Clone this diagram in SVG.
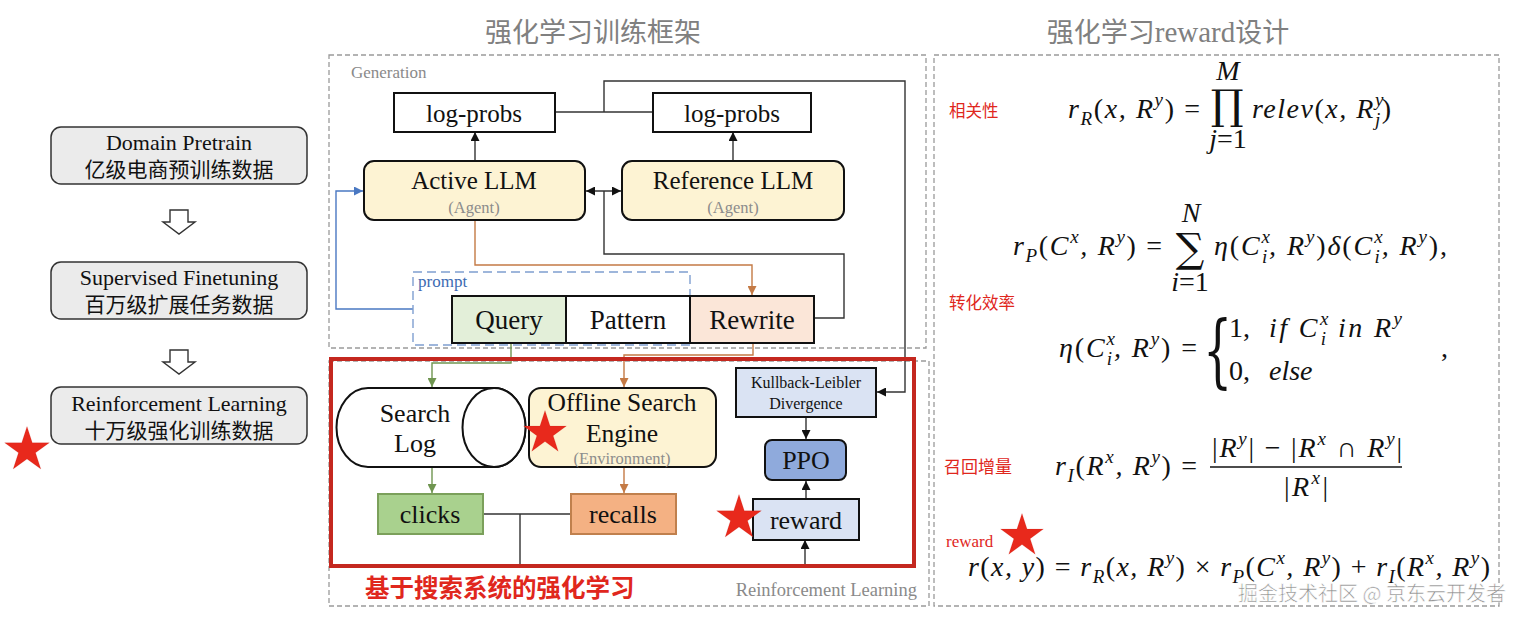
<svg xmlns="http://www.w3.org/2000/svg" width="1524" height="623" viewBox="0 0 1524 623">
<style>
.ser{font-family:"Liberation Serif","Times New Roman",serif;}
.cjk{font-family:"Noto Sans CJK SC","Noto Sans",sans-serif;}
.lbox{fill:#ebebeb;stroke:#333;stroke-width:1.5;}
.box{stroke:#111;stroke-width:2;}
.t25{font-size:25px;fill:#111;}
.gray{fill:#8a8a8a;}
.dash{fill:none;stroke:#9a9a9a;stroke-width:1.3;stroke-dasharray:5 3;}
.ln{fill:none;stroke:#333;stroke-width:1.4;}
.or{fill:none;stroke:#c47a45;stroke-width:1.4;}
.gr{fill:none;stroke:#6f9550;stroke-width:1.4;}
.bl{fill:none;stroke:#4a78c2;stroke-width:1.4;}
.m{font-family:"Liberation Serif","Times New Roman",serif;font-style:italic;font-size:28px;fill:#111;}
.u{font-style:normal;}
.s{font-size:19px;}
.red{fill:#e0271d;}
.star{fill:#e8291c;stroke:#b01810;stroke-width:0.6;}
</style>
<defs>
<marker id="ak" viewBox="0 0 10 10" refX="10" refY="5" markerWidth="9" markerHeight="9" orient="auto-start-reverse" markerUnits="userSpaceOnUse"><path d="M0,0 L10,5 L0,10 z" fill="#111"/></marker>
<marker id="ao" viewBox="0 0 10 10" refX="10" refY="5" markerWidth="9" markerHeight="9" orient="auto" markerUnits="userSpaceOnUse"><path d="M0,0 L10,5 L0,10 z" fill="#c47a45"/></marker>
<marker id="ag" viewBox="0 0 10 10" refX="10" refY="5" markerWidth="9" markerHeight="9" orient="auto" markerUnits="userSpaceOnUse"><path d="M0,0 L10,5 L0,10 z" fill="#6f9550"/></marker>
<marker id="ab" viewBox="0 0 10 10" refX="10" refY="5" markerWidth="9" markerHeight="9" orient="auto" markerUnits="userSpaceOnUse"><path d="M0,0 L10,5 L0,10 z" fill="#4a78c2"/></marker>
<path id="star" d="M0,-100 L22.45,-30.9 L95.11,-30.9 L36.33,11.8 L58.78,80.9 L0,38.2 L-58.78,80.9 L-36.33,11.8 L-95.11,-30.9 L-22.45,-30.9 Z"/>
</defs>
<rect width="1524" height="623" fill="#ffffff"/>

<!-- titles -->
<text x="593" y="42" text-anchor="middle" class="cjk" font-size="27" fill="#808080">强化学习训练框架</text>
<text x="1168" y="42" text-anchor="middle" class="cjk" font-size="27" fill="#808080">强化学习<tspan class="ser" font-size="29">reward</tspan>设计</text>

<!-- left column -->
<g id="domain-pretrain">
<rect x="51" y="127" width="256" height="57" rx="10" class="lbox"/>
<text x="179" y="150" text-anchor="middle" class="ser" font-size="22" fill="#111">Domain Pretrain</text>
<text x="179" y="177" text-anchor="middle" class="cjk" font-size="21" fill="#111">亿级电商预训练数据</text>
</g>
<g id="sft">
<rect x="51" y="262" width="256" height="57" rx="10" class="lbox"/>
<text x="179" y="285" text-anchor="middle" class="ser" font-size="22" fill="#111">Supervised Finetuning</text>
<text x="179" y="312" text-anchor="middle" class="cjk" font-size="21" fill="#111">百万级扩展任务数据</text>
</g>
<g id="rl-stage">
<rect x="51" y="387" width="256" height="57" rx="10" class="lbox"/>
<text x="179" y="411" text-anchor="middle" class="ser" font-size="22" fill="#111">Reinforcement Learning</text>
<text x="179" y="438" text-anchor="middle" class="cjk" font-size="21" fill="#111">十万级强化训练数据</text>
</g>
<g id="stage-arrows" fill="#fff" stroke="#333" stroke-width="1.4">
<polygon points="170,210 188,210 188,222 195,222 179,234 163,222 170,222"/>
<polygon points="170,350 188,350 188,362 195,362 179,374 163,362 170,362"/>
</g>
<use href="#star" class="star" transform="translate(27,450) scale(0.235)"/>

<!-- frames -->
<g id="generation-frame">
<rect x="329" y="55" width="597" height="293" class="dash"/>
<text x="351" y="78" class="ser gray" font-size="17">Generation</text>
</g>
<g id="rl-frame">
<rect x="329" y="361" width="600" height="245" class="dash"/>
<text x="917" y="596" text-anchor="end" class="ser gray" font-size="18.5">Reinforcement Learning</text>
</g>
<g id="reward-frame">
<rect x="934" y="55" width="565" height="551" class="dash"/>
</g>

<!-- connectors -->
<g id="connectors">
<polyline class="ln" points="555,112 653,112"/>
<polyline class="ln" points="604,112 604,81 905,81 905,392 877,392" marker-end="url(#ak)"/>
<line class="ln" x1="475" y1="161" x2="475" y2="132" marker-end="url(#ak)"/>
<line class="ln" x1="733" y1="161" x2="733" y2="132" marker-end="url(#ak)"/>
<line class="ln" x1="586" y1="191" x2="621" y2="191" marker-start="url(#ak)" marker-end="url(#ak)"/>
<polyline class="ln" points="604,191 604,254 844,254 844,318 814,318"/>
<polyline class="or" points="475,220 475,265 752,265 752,295" marker-end="url(#ao)"/>
<polyline class="bl" points="413,309 336,309 336,191 363,191" marker-end="url(#ab)"/>
<polyline class="gr" points="511,343 511,363 432,363 432,387" marker-end="url(#ag)"/>
<polyline class="or" points="753,343 753,355 624,355 624,387" marker-end="url(#ao)"/>
<line class="gr" x1="432" y1="467" x2="432" y2="493" marker-end="url(#ag)"/>
<line class="or" x1="624" y1="467" x2="624" y2="493" marker-end="url(#ao)"/>
<line class="ln" x1="483" y1="514" x2="571" y2="514"/>
<polyline class="ln" points="520,514 520,565 805,565 805,540" marker-end="url(#ak)"/>
<line class="ln" x1="806" y1="417" x2="806" y2="439" marker-end="url(#ak)"/>
<line class="ln" x1="806" y1="499" x2="806" y2="481" marker-end="url(#ak)"/>
</g>

<!-- generation nodes -->
<g id="logprobs-active">
<rect x="394" y="93" width="161" height="39" fill="#fff" class="box"/>
<text x="474" y="122" text-anchor="middle" class="ser t25">log-probs</text>
</g>
<g id="logprobs-ref">
<rect x="653" y="93" width="158" height="39" fill="#fff" class="box"/>
<text x="732" y="122" text-anchor="middle" class="ser t25">log-probs</text>
</g>
<g id="active-llm">
<rect x="364" y="161" width="221" height="59" rx="10" fill="#fdf3d3" class="box"/>
<text x="474" y="189" text-anchor="middle" class="ser t25">Active LLM</text>
<text x="474" y="213" text-anchor="middle" class="ser" font-size="16.5" fill="#8c8c8c">(Agent)</text>
</g>
<g id="reference-llm">
<rect x="622" y="161" width="222" height="59" rx="10" fill="#fdf3d3" class="box"/>
<text x="733" y="189" text-anchor="middle" class="ser t25">Reference LLM</text>
<text x="733" y="213" text-anchor="middle" class="ser" font-size="16.5" fill="#8c8c8c">(Agent)</text>
</g>
<g id="prompt">
<rect x="413" y="272" width="277" height="73" fill="none" stroke="#7f9fd0" stroke-width="1.4" stroke-dasharray="9 5"/>
<text x="418" y="287" class="ser" font-size="17" fill="#3d6bb3">prompt</text>
</g>
<g id="query">
<rect x="452" y="296" width="114" height="47" fill="#e3efd9" class="box"/>
<text x="509" y="329" text-anchor="middle" class="ser" font-size="27" fill="#111">Query</text>
</g>
<g id="pattern">
<rect x="566" y="296" width="124" height="47" fill="#fff" class="box"/>
<text x="628" y="329" text-anchor="middle" class="ser" font-size="27" fill="#111">Pattern</text>
</g>
<g id="rewrite">
<rect x="690" y="296" width="124" height="47" fill="#fbe6d8" class="box"/>
<text x="752" y="329" text-anchor="middle" class="ser" font-size="27" fill="#111">Rewrite</text>
</g>

<!-- RL nodes -->
<g id="search-log">
<path d="M368,388 L494,388 A31.5,39.5 0 0 1 494,467 L368,467 A31.5,39.5 0 0 1 368,388 Z" fill="#fff" class="box"/>
<ellipse cx="494" cy="427.5" rx="31.5" ry="39.5" fill="#fff" class="box"/>
<text x="415" y="422" text-anchor="middle" class="ser" font-size="26" fill="#111">Search</text>
<text x="415" y="452" text-anchor="middle" class="ser" font-size="26" fill="#111">Log</text>
</g>
<g id="offline-search-engine">
<rect x="529" y="388" width="187" height="79" rx="12" fill="#fdf3d3" class="box"/>
<text x="622" y="411" text-anchor="middle" class="ser" font-size="25.5" fill="#111">Offline Search</text>
<text x="622" y="442" text-anchor="middle" class="ser" font-size="25.5" fill="#111">Engine</text>
<text x="622" y="464" text-anchor="middle" class="ser" font-size="16.5" fill="#8c8c8c">(Environment)</text>
</g>
<use href="#star" class="star" transform="translate(545,433) scale(0.225)"/>
<g id="clicks">
<rect x="378" y="494" width="105" height="40" fill="#a9d18e" stroke="#7ba05b" stroke-width="2"/>
<text x="430" y="523" text-anchor="middle" class="ser" font-size="26" fill="#111">clicks</text>
</g>
<g id="recalls">
<rect x="571" y="494" width="105" height="40" fill="#f4b183" stroke="#c0804d" stroke-width="2"/>
<text x="623" y="523" text-anchor="middle" class="ser" font-size="26" fill="#111">recalls</text>
</g>
<g id="kl-divergence">
<rect x="736" y="368" width="140" height="49" fill="#dae3f3" class="box"/>
<text x="806" y="388" text-anchor="middle" class="ser" font-size="16" fill="#111">Kullback-Leibler</text>
<text x="806" y="409" text-anchor="middle" class="ser" font-size="16" fill="#111">Divergence</text>
</g>
<g id="ppo">
<rect x="765" y="440" width="81" height="40" rx="7" fill="#8faadc" class="box"/>
<text x="806" y="469" text-anchor="middle" class="ser" font-size="26" fill="#111">PPO</text>
</g>
<g id="reward">
<rect x="753" y="499" width="106" height="41" fill="#dae3f3" class="box"/>
<text x="806" y="529" text-anchor="middle" class="ser" font-size="26" fill="#111">reward</text>
</g>
<use href="#star" class="star" transform="translate(739,518) scale(0.235)"/>

<g id="rl-box">
<rect x="331" y="359" width="583" height="207" fill="none" stroke="#c4281f" stroke-width="4"/>
<text x="365" y="597" class="cjk red" font-size="24.5" font-weight="bold">基于搜索系统的强化学习</text>
</g>

<!-- reward design formulas -->
<g id="relevance">
<text x="949" y="117" class="cjk red" font-size="16.5">相关性</text>
<text x="1200" y="118" text-anchor="end" class="m" textLength="132" lengthAdjust="spacing">r<tspan class="s" dy="7">R</tspan><tspan class="u" dy="-7">(</tspan>x, R<tspan class="s" dy="-12">y</tspan><tspan class="u" dy="12">) =</tspan></text>
<text x="1227" y="119" text-anchor="middle" font-family="DejaVu Serif,serif" font-size="41" fill="#111">∏</text>
<text x="1228" y="80" text-anchor="middle" class="m" font-size="22">M</text>
<text x="1228" y="148" text-anchor="middle" class="m" font-size="22">j<tspan class="u">=1</tspan></text>
<text x="1252" y="118" class="m" textLength="139" lengthAdjust="spacing">relev<tspan class="u">(</tspan>x, R<tspan class="s" dy="-12">y</tspan><tspan class="s" dx="-10" dy="20">j</tspan><tspan class="u" dy="-8">)</tspan></text>
</g>
<g id="conversion">
<text x="949" y="309" class="cjk red" font-size="16.5">转化效率</text>
<text x="1162" y="255" text-anchor="end" class="m" textLength="149" lengthAdjust="spacing">r<tspan class="s" dy="7">P</tspan><tspan class="u" dy="-7">(</tspan>C<tspan class="s" dy="-12">x</tspan><tspan dy="12">, R</tspan><tspan class="s" dy="-12">y</tspan><tspan class="u" dy="12">) =</tspan></text>
<text x="1190" y="262" text-anchor="middle" font-family="DejaVu Serif,serif" font-size="40" fill="#111">∑</text>
<text x="1191" y="222" text-anchor="middle" class="m" font-size="22">N</text>
<text x="1190" y="291" text-anchor="middle" class="m" font-size="22">i<tspan class="u">=1</tspan></text>
<text x="1214" y="255" class="m" textLength="233" lengthAdjust="spacing">η<tspan class="u">(</tspan>C<tspan class="s" dy="-12">x</tspan><tspan class="s" dx="-10" dy="20">i</tspan><tspan dy="-8">, R</tspan><tspan class="s" dy="-12">y</tspan><tspan class="u" dy="12">)</tspan>δ<tspan class="u">(</tspan>C<tspan class="s" dy="-12">x</tspan><tspan class="s" dx="-10" dy="20">i</tspan><tspan dy="-8">, R</tspan><tspan class="s" dy="-12">y</tspan><tspan class="u" dy="12">),</tspan></text>
<text x="1197" y="357" text-anchor="end" class="m" textLength="138" lengthAdjust="spacing">η<tspan class="u">(</tspan>C<tspan class="s" dy="-12">x</tspan><tspan class="s" dx="-10" dy="20">i</tspan><tspan dy="-8">, R</tspan><tspan class="s" dy="-12">y</tspan><tspan class="u" dy="12">) =</tspan></text>
<text transform="translate(1203,378) scale(1,1.75)" font-family="DejaVu Serif,serif" font-size="46" fill="#111">{</text>
<text x="1229" y="337" class="m"><tspan class="u">1,</tspan></text>
<text x="1269" y="337" class="m" textLength="133" lengthAdjust="spacing">if C<tspan class="s" dy="-12">x</tspan><tspan class="s" dx="-10" dy="20">i</tspan><tspan dy="-8"> in R</tspan><tspan class="s" dy="-12">y</tspan></text>
<text x="1229" y="380" class="m"><tspan class="u">0,</tspan></text>
<text x="1269" y="380" class="m">else</text>
<text x="1441" y="357" class="m"><tspan class="u">,</tspan></text>
</g>
<g id="recall-gain">
<text x="944" y="473" class="cjk red" font-size="17">召回增量</text>
<text x="1197" y="475" text-anchor="end" class="m" textLength="142" lengthAdjust="spacing">r<tspan class="s" dy="7">I</tspan><tspan class="u" dy="-7">(</tspan>R<tspan class="s" dy="-12">x</tspan><tspan dy="12">, R</tspan><tspan class="s" dy="-12">y</tspan><tspan class="u" dy="12">) =</tspan></text>
<text x="1212" y="457" class="m" textLength="190" lengthAdjust="spacing"><tspan class="u">|</tspan>R<tspan class="s" dy="-12">y</tspan><tspan class="u" dy="12">| − |</tspan>R<tspan class="s" dy="-12">x</tspan><tspan class="u" dy="12"> ∩ </tspan>R<tspan class="s" dy="-12">y</tspan><tspan class="u" dy="12">|</tspan></text>
<line x1="1210" y1="467" x2="1402" y2="467" stroke="#111" stroke-width="1.6"/>
<text x="1284" y="496" class="m" textLength="44" lengthAdjust="spacing"><tspan class="u">|</tspan>R<tspan class="s" dy="-12">x</tspan><tspan class="u" dy="12">|</tspan></text>
</g>
<g id="total-reward">
<text x="946" y="547" class="ser red" font-size="17">reward</text>
<use href="#star" class="star" transform="translate(1022,536) scale(0.225)"/>
<text x="968" y="576" class="m" textLength="522" lengthAdjust="spacing">r<tspan class="u">(</tspan>x, y<tspan class="u">) = </tspan>r<tspan class="s" dy="7">R</tspan><tspan class="u" dy="-7">(</tspan>x, R<tspan class="s" dy="-12">y</tspan><tspan class="u" dy="12">) × </tspan>r<tspan class="s" dy="7">P</tspan><tspan class="u" dy="-7">(</tspan>C<tspan class="s" dy="-12">x</tspan><tspan dy="12">, R</tspan><tspan class="s" dy="-12">y</tspan><tspan class="u" dy="12">) + </tspan>r<tspan class="s" dy="7">I</tspan><tspan class="u" dy="-7">(</tspan>R<tspan class="s" dy="-12">x</tspan><tspan dy="12">, R</tspan><tspan class="s" dy="-12">y</tspan><tspan class="u" dy="12">)</tspan></text>
</g>

<text x="1506" y="601" text-anchor="end" class="cjk" font-size="20" fill="#8f8f8f" stroke="#ffffff" stroke-width="0.6">掘金技术社区 @ 京东云开发者</text>
</svg>
